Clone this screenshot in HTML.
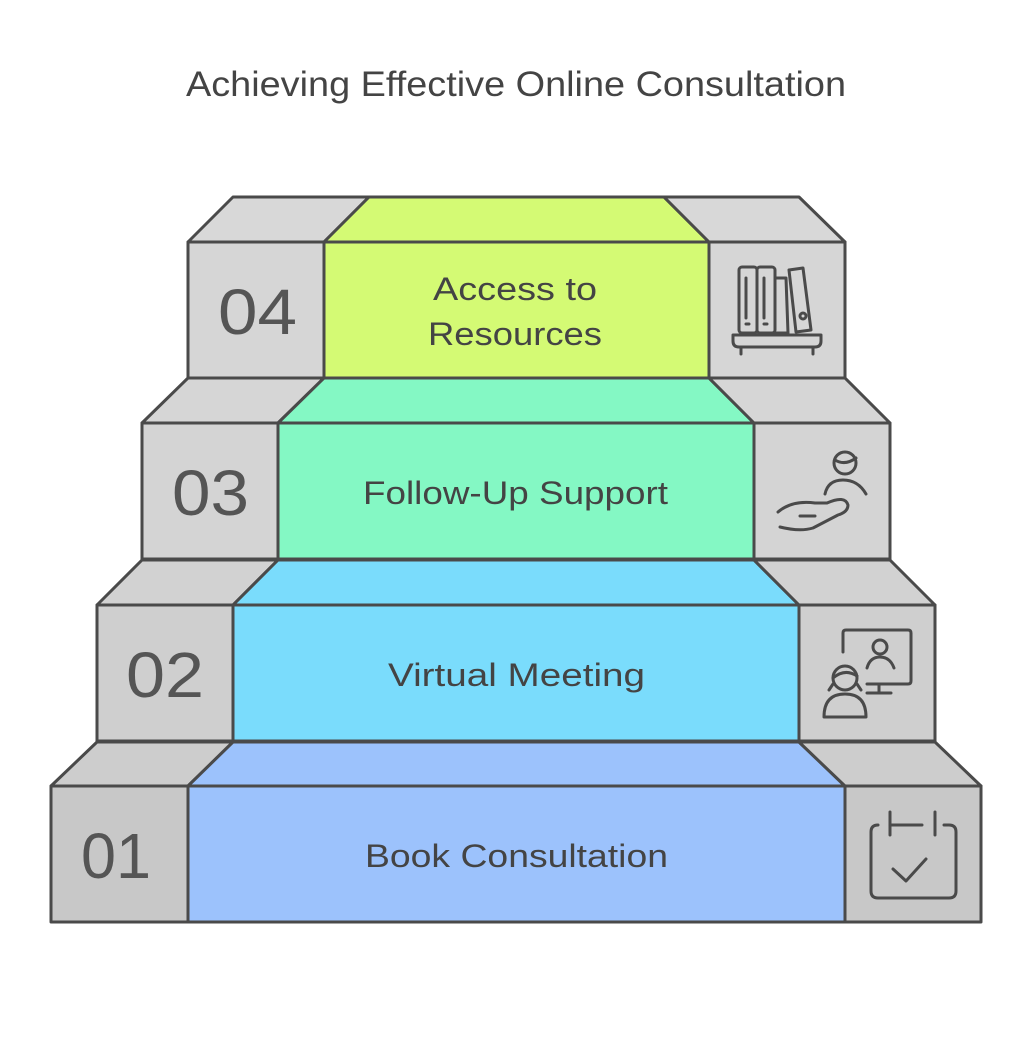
<!DOCTYPE html>
<html><head><style>body{margin:0;background:#fff}svg{display:block}</style></head>
<body>
<svg width="1024" height="1047" viewBox="0 0 1024 1047" xmlns="http://www.w3.org/2000/svg" font-family="Liberation Sans, sans-serif">
<text x="186" y="96" font-size="35" fill="#444" textLength="660" lengthAdjust="spacingAndGlyphs">Achieving Effective Online Consultation</text>
<g stroke="#4a4a4a" stroke-width="3" stroke-linejoin="round">
<polygon points="188,242 233,197 369,197 324,242" fill="#d8d8d8"/>
<polygon points="324,242 369,197 664,197 709,242" fill="#d4fa74"/>
<polygon points="709,242 664,197 799,197 845,242" fill="#d8d8d8"/>
<rect x="188" y="242" width="136" height="136" fill="#d6d6d6"/>
<rect x="324" y="242" width="385" height="136" fill="#d4fa74"/>
<rect x="709" y="242" width="136" height="136" fill="#d6d6d6"/>
<polygon points="142,423 188,378 324,378 278,423" fill="#d6d6d6"/>
<polygon points="278,423 324,378 709,378 754,423" fill="#84f8c4"/>
<polygon points="754,423 709,378 845,378 890,423" fill="#d6d6d6"/>
<rect x="142" y="423" width="136" height="136" fill="#d4d4d4"/>
<rect x="278" y="423" width="476" height="136" fill="#84f8c4"/>
<rect x="754" y="423" width="136" height="136" fill="#d4d4d4"/>
<polygon points="97,605 142,560 278,560 233,605" fill="#d2d2d2"/>
<polygon points="233,605 278,560 754,560 799,605" fill="#7adcfc"/>
<polygon points="799,605 754,560 890,560 935,605" fill="#d2d2d2"/>
<rect x="97" y="605" width="136" height="136" fill="#cfcfcf"/>
<rect x="233" y="605" width="566" height="136" fill="#7adcfc"/>
<rect x="799" y="605" width="136" height="136" fill="#cfcfcf"/>
<polygon points="51,786 97,742 233,742 188,786" fill="#cdcdcd"/>
<polygon points="188,786 233,742 799,742 845,786" fill="#9cc2fc"/>
<polygon points="845,786 799,742 935,742 981,786" fill="#cdcdcd"/>
<rect x="51" y="786" width="137" height="136" fill="#c8c8c8"/>
<rect x="188" y="786" width="657" height="136" fill="#9cc2fc"/>
<rect x="845" y="786" width="136" height="136" fill="#c8c8c8"/>
</g>
<g font-size="32" fill="#444">
<text x="433" y="300" textLength="164" lengthAdjust="spacingAndGlyphs">Access to</text>
<text x="428" y="345" textLength="174" lengthAdjust="spacingAndGlyphs">Resources</text>
<text x="363" y="504" textLength="305" lengthAdjust="spacingAndGlyphs">Follow-Up Support</text>
<text x="388" y="686" textLength="257" lengthAdjust="spacingAndGlyphs">Virtual Meeting</text>
<text x="365" y="867" textLength="303" lengthAdjust="spacingAndGlyphs">Book Consultation</text>
</g>
<g font-size="64" fill="#555">
<text x="218" y="334" textLength="79" lengthAdjust="spacingAndGlyphs">04</text>
<text x="172" y="515" textLength="77" lengthAdjust="spacingAndGlyphs">03</text>
<text x="126" y="697" textLength="78" lengthAdjust="spacingAndGlyphs">02</text>
<text x="81" y="878" textLength="70" lengthAdjust="spacingAndGlyphs">01</text>
</g>
<g fill="none" stroke="#4a4a4a" stroke-width="3" stroke-linecap="round" stroke-linejoin="round">
<rect x="739" y="267" width="18" height="66" rx="3"/>
<rect x="757" y="267" width="18" height="66" rx="3"/>
<line x1="746" y1="278" x2="746" y2="318"/><line x1="764" y1="278" x2="764" y2="318"/>
<line x1="746" y1="324" x2="749" y2="324"/><line x1="764" y1="324" x2="767" y2="324"/>
<polyline points="775,278 786,278 788,333 775,333"/>
<polygon points="789,270 803,268 811,330 796,332"/>
<circle cx="803" cy="316" r="3"/>
<path d="M733,335 H821 V341 Q821,347 815,347 H739 Q733,347 733,341 Z"/>
<line x1="741" y1="347" x2="741" y2="354"/><line x1="813" y1="347" x2="813" y2="354"/>
<circle cx="845" cy="463" r="11"/>
<path d="M835,460 Q845,466 856,458"/>
<path d="M825,494 Q828,480 843,480 Q858,480 866,494"/>
<path d="M778,512 Q792,500 815,503 H827 Q845,495 848,505 Q848,512 838,515 L813,528 Q800,532 780,527"/>
<line x1="800" y1="516" x2="815" y2="516"/>
<path d="M843,652 V633 Q843,630 846,630 H908 Q911,630 911,633 V681 Q911,684 908,684 H867"/>
<line x1="879" y1="684" x2="879" y2="693"/><line x1="867" y1="693" x2="891" y2="693"/>
<circle cx="880" cy="647" r="7"/>
<path d="M867,668 Q870,657 880,657 Q890,657 894,668"/>
<circle cx="845" cy="678" r="12"/>
<path d="M833,678 Q845,668 857,676"/>
<path d="M833,684 L829,690 M857,684 L861,690"/>
<path d="M824,717 Q824,694 845,694 Q866,694 866,717 Z"/>
<path d="M878,825 Q871,825 871,832 V891 Q871,898 878,898 H949 Q956,898 956,891 V832 Q956,825 949,825 H944"/>
<line x1="890" y1="812" x2="890" y2="835"/><line x1="935" y1="812" x2="935" y2="835"/>
<line x1="890" y1="825" x2="922" y2="825"/>
<polyline points="893,869 906,881 926,859"/>
</g>
</svg>
</body></html>
